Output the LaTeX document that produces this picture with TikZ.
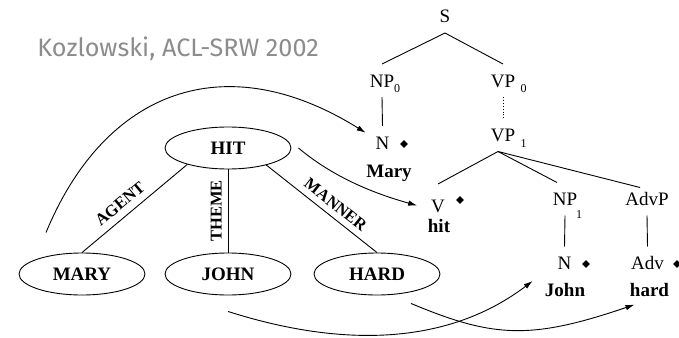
\documentclass[tikz,border=0pt]{standalone}
\usepackage{fontspec}
\usetikzlibrary{shapes.geometric,arrows.meta}
\newfontfamily\treefont{Liberation Serif}
\newfontfamily\capfont{Fira Sans}
\definecolor{titlegray}{HTML}{8C8C8C}

\begin{document}
\begin{tikzpicture}[x=1pt,y=-1pt,line width=0.9pt,
  cat/.style={font=\treefont\fontsize{19}{22}\selectfont, inner sep=0pt,
    outer sep=10pt, text height=13pt, text depth=0pt},
  sub/.style={font=\treefont\fontsize{12}{14}\selectfont, inner sep=0pt},
  word/.style={font=\treefont\bfseries\fontsize{19}{22}\selectfont,
    inner sep=0pt, anchor=base},
  dia/.style={diamond, aspect=1, fill=black, draw=none, inner sep=0pt,
    minimum size=8pt},
  concept/.style={ellipse, draw, minimum width=126pt, minimum height=42pt,
    inner sep=0pt, font=\treefont\bfseries\fontsize{19}{22}\selectfont},
  role/.style={font=\treefont\bfseries\fontsize{16.5}{18}\selectfont,
    inner sep=0pt},
  link/.style={-{Latex[length=9pt,width=5.5pt]}},
]
\useasboundingbox (0,0) rectangle (679,337);

% caption
\node[anchor=base west, inner sep=0pt, text=titlegray,
      font=\capfont\fontsize{25.2}{29}\selectfont] (title) at (37,56.5)
      {Kozlowski, ACL-SRW 2002};

% syntax tree
\node[cat] (S)    at (445,16.5)  {S};
\node[cat] (NP0)  at (382,80.5)  {NP};
\node[sub] (NP0i) at (397,88.5)  {0};
\node[cat] (VP0)  at (503,80.5)  {VP};
\node[sub] (VP0i) at (523.5,88.5) {0};
\node[cat] (N0)   at (382.5,142.5) {N};
\node[dia] (N0d)  at (404,144) {};
\node[word] (Mary) at (389,177) {Mary};
\node[cat] (VP1)  at (503,135) {VP};
\node[sub] (VP1i) at (523.5,144) {1};
\node[cat] (V)    at (438,205.5) {V};
\node[dia] (Vd)   at (460,200) {};
\node[word] (hit) at (439,232) {hit};
\node[cat] (NP1)  at (565,199) {NP};
\node[sub] (NP1i) at (579,215) {1};
\node[cat] (AdvP) at (647,199) {AdvP};
\node[cat] (N1)   at (564.5,263) {N};
\node[dia] (N1d)  at (586,264) {};
\node[word] (John) at (565,296) {John};
\node[cat] (Adv)  at (647.5,263) {Adv};
\node[dia] (Advd) at (677,264) {};
\node[word] (hard) at (649.5,296) {hard};

\draw (S.south) -- (NP0.north);
\draw (S.south) -- (VP0.north);
\draw (NP0.south) -- (N0.north);
\draw[dotted] (VP0.south) -- (VP1.north);
\draw ([xshift=-5pt]VP1.south) -- ([yshift=5pt]V.north);
\draw ([xshift=-5pt]VP1.south) -- ([xshift=-8pt]NP1.north);
\draw ([xshift=-5pt]VP1.south) -- ([xshift=-7pt,yshift=-5pt]AdvP.north);
\draw (NP1.south) -- (N1.north);
\draw (AdvP.south) -- (Adv.north);

% semantic graph
\node[concept] (HIT)  at (228,148) {HIT};
\node[concept] (MARY) at (82,274)  {MARY};
\node[concept] (JOHN) at (228,274) {JOHN};
\node[concept] (HARD) at (377,274) {HARD};

\draw (MARY.north) -- node[role, sloped, above=7pt, pos=0.44] {AGENT} (HIT.202);
\draw (JOHN.north) -- node[role, sloped, above=6pt, pos=0.5] {THEME} (HIT.south);
\draw (HIT.336) -- node[role, sloped, above=6pt, pos=0.56] {MANNER} (HARD.north);

% correspondences between graph and tree
\coordinate (fromMARY) at ([xshift=-36pt,yshift=20pt]MARY.north);
\draw[link] (fromMARY) .. controls (105,90) and (225,45) .. (N0.150);
\draw[link] ([xshift=7pt]HIT.east) .. controls (333,177) and (373.5,193.4)
  .. ([xshift=-4pt]V.west);
\draw[link] ([yshift=-16pt]JOHN.south) .. controls (313.6,338.8) and (433.1,356.3)
  .. ([xshift=-15pt,yshift=-1.5pt]N1.south west);
\draw[link] ([xshift=34pt,yshift=-8pt]HARD.south) .. controls (493.8,338.2) and (531,339.8)
  .. ([xshift=5pt,yshift=-8pt]hard.south west);
\end{tikzpicture}
\end{document}
